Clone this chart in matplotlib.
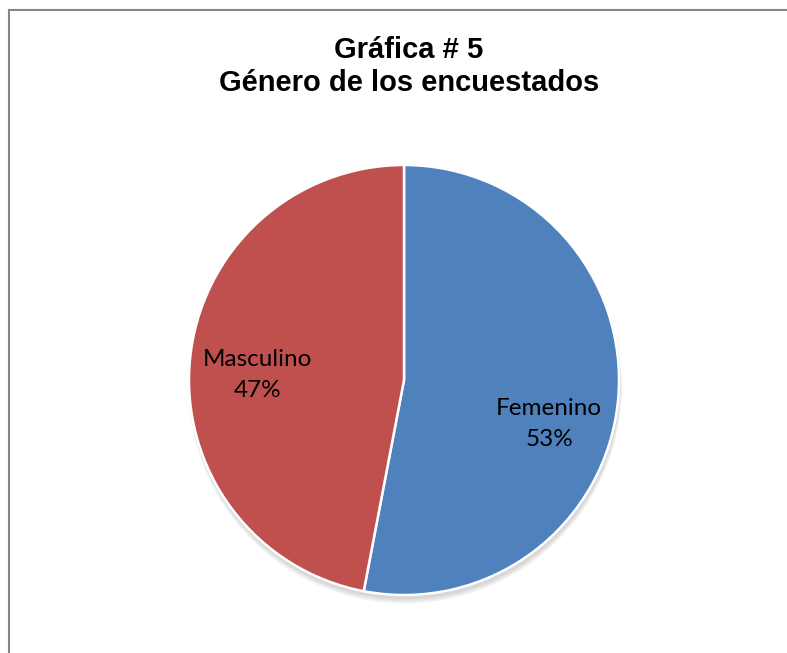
import matplotlib
matplotlib.use("Agg")
import matplotlib.pyplot as plt
from matplotlib.lines import Line2D
from matplotlib.patches import Circle

# datos
categorias = ["Femenino", "Masculino"]
porcentajes = [53, 47]
colores = ["#4F81BD", "#C0504D"]

fig = plt.figure(figsize=(7.87, 6.53), dpi=100)
fig.patch.set_facecolor("white")

# borde del area del grafico (solo arriba e izquierda visibles)
fig.add_artist(Line2D([8.5 / 787, 8.5 / 787], [0, 1 - 10 / 653],
                      color="#868686", lw=1.5, transform=fig.transFigure))
fig.add_artist(Line2D([8.5 / 787, 1], [1 - 10 / 653, 1 - 10 / 653],
                      color="#868686", lw=1.5, transform=fig.transFigure))

fig.text(409 / 787, 1 - 50 / 653, "Gráfica # 5", ha="center", va="center",
         fontsize=21, fontweight="bold", family="Liberation Sans")
fig.text(409 / 787, 1 - 83 / 653, "Género de los encuestados", ha="center", va="center",
         fontsize=21, fontweight="bold", family="Liberation Sans")

cx, cy, r = 404, 380, 215
ax = fig.add_axes([(cx - r) / 787, (653 - cy - r) / 653, 2 * r / 787, 2 * r / 653])
ax.axis("off")

# sombra suave
for i, a in enumerate([0.05, 0.05, 0.06]):
    ax.add_patch(Circle((0.005, -0.02 - 0.005 * i), 1.0 + 0.004 * i, color="black",
                        alpha=a, lw=0, zorder=0, clip_on=False))

wedges, _ = ax.pie(porcentajes, colors=colores, startangle=90, counterclock=False,
                   radius=1.0, wedgeprops=dict(edgecolor="white", linewidth=1.8),
                   frame=False)
ax.set_xlim(-1, 1)
ax.set_ylim(-1, 1)
ax.set_aspect("equal")

pos_etiquetas = [(0.675, -0.205), (-0.68, 0.025)]
for nombre, p, (x, y) in zip(categorias, porcentajes, pos_etiquetas):
    ax.text(x, y, f"{nombre}\n{p}%", ha="center", va="center", fontsize=17.5,
            family="Lato", linespacing=1.6, color="black")

fig.savefig("out.png", dpi=100, facecolor="white")
